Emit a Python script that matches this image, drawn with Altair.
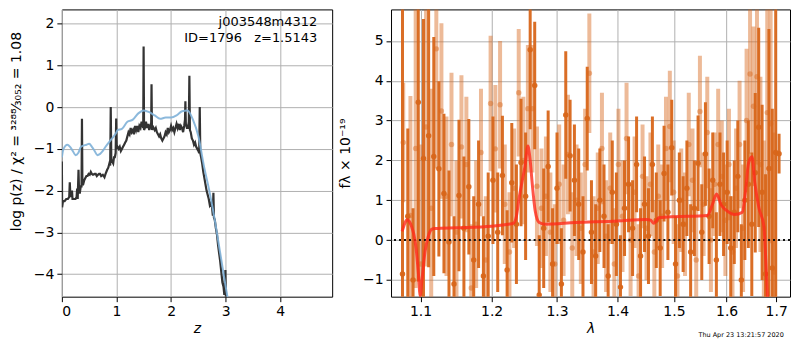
import altair as alt
import pandas as pd

# ---------------- left panel: redshift PDF ----------------
z_pz = [0.000, 0.005, 0.02, 0.05, 0.08, 0.11, 0.135, 0.145, 0.155, 0.17, 0.185, 0.195, 0.22, 0.25, 0.27,
        0.28, 0.29, 0.305, 0.315, 0.33, 0.345, 0.36, 0.368, 0.376, 0.39, 0.41, 0.43, 0.45, 0.47, 0.49,
        0.51, 0.53, 0.55, 0.57, 0.60, 0.62, 0.64, 0.66, 0.68, 0.70, 0.72, 0.75, 0.78, 0.80, 0.83,
        0.85, 0.87, 0.885, 0.895, 0.905, 0.92, 0.94, 0.955, 0.97, 0.985, 0.995, 1.005, 1.02, 1.04, 1.06,
        1.08, 1.10, 1.12, 1.14, 1.16, 1.18, 1.20, 1.22, 1.24, 1.26, 1.28, 1.30, 1.32, 1.34, 1.36,
        1.38, 1.40, 1.42, 1.44, 1.46, 1.48, 1.49, 1.497, 1.505, 1.52, 1.54, 1.56, 1.58, 1.60, 1.62,
        1.635, 1.642, 1.65, 1.66, 1.68, 1.70, 1.72, 1.74, 1.76, 1.78, 1.80, 1.82, 1.84, 1.86, 1.88,
        1.90, 1.92, 1.94, 1.96, 1.98, 2.00, 2.02, 2.04, 2.06, 2.08, 2.10, 2.12, 2.14, 2.16, 2.18,
        2.20, 2.22, 2.24, 2.255, 2.262, 2.27, 2.29, 2.31, 2.325, 2.335, 2.345, 2.36, 2.38, 2.40, 2.42,
        2.44, 2.46, 2.48, 2.50, 2.515, 2.525, 2.535, 2.55, 2.57, 2.59, 2.61, 2.63, 2.65, 2.67, 2.69,
        2.71, 2.73, 2.75, 2.765, 2.775, 2.785, 2.80, 2.82, 2.84, 2.86, 2.88, 2.90, 2.92, 2.94, 2.96,
        2.975, 2.985, 2.995, 3.005]
logp_pz = [-1.30, -2.40, -2.25, -2.25, -2.20, -2.20, -2.15, -1.80, -2.10, -2.15, -2.00, -2.20, -2.20, -2.20, -2.15,
           -1.95, -2.20, -1.50, -2.05, -2.05, -1.90, -1.90, -0.28, -1.85, -1.85, -1.75, -1.70, -1.65, -1.65, -1.60,
           -1.62, -1.55, -1.60, -1.62, -1.60, -1.60, -1.65, -1.62, -1.60, -1.60, -1.65, -1.62, -1.68, -1.60, -1.50,
           -1.45, -1.35, -1.40, 0.00, -1.25, -1.30, -1.35, -1.20, -1.20, -1.10, -0.27, -1.00, -0.95, -1.00, -0.95,
           -1.05, -1.00, -0.95, -0.90, -0.85, -0.80, -0.70, -0.60, -0.65, -0.50, -0.60, -0.55, -0.65, -0.45, -0.55,
           -0.45, -0.60, -0.45, -0.50, -0.35, -0.45, -0.50, 1.45, -0.55, -0.50, -0.35, -0.50, -0.40, -0.55, -0.45,
           -0.50, 0.55, -0.55, -0.45, -0.50, -0.55, -0.50, -0.60, -0.65, -0.70, -0.65, -0.75, -0.80, -0.75, -0.70,
           -0.60, -0.65, -0.50, -0.60, -0.55, -0.45, -0.55, -0.50, -0.60, -0.50, -0.40, -0.50, -0.40, -0.55, -0.45,
           -0.50, -0.60, -0.45, -0.30, 0.14, -0.40, -0.50, -0.50, -0.35, 0.75, -0.55, -0.60, -0.75, -0.80, -0.90,
           -0.85, -0.95, -1.00, -1.05, -1.10, 0.00, -1.10, -1.20, -1.35, -1.55, -1.70, -1.85, -2.00, -2.10, -2.20,
           -2.35, -2.30, -2.40, -2.60, -2.05, -2.65, -2.70, -2.90, -3.05, -3.30, -3.50, -3.70, -3.95, -4.20, -4.30,
           -4.50, -4.10, -3.90, -4.70]

z_prior = [0.0, 0.03, 0.1, 0.15, 0.2, 0.25, 0.3, 0.35, 0.45, 0.5, 0.55, 0.6, 0.65, 0.7, 0.75, 0.8, 0.9,
           0.95, 1.0, 1.02, 1.1, 1.2, 1.3, 1.4, 1.5, 1.6, 1.7, 1.8, 1.9, 2.0, 2.1, 2.2, 2.3, 2.4, 2.5,
           2.6, 2.7, 2.8, 2.9, 3.0, 3.04]
logp_prior = [-1.20, -1.00, -0.90, -0.95, -1.05, -1.15, -1.10, -0.95, -0.90, -0.88, -0.95, -1.05, -1.15, -1.12,
              -1.05, -0.95, -0.78, -0.70, -0.60, -0.55, -0.52, -0.35, -0.30, -0.15, -0.08, -0.12, -0.20, -0.28,
              -0.25, -0.25, -0.20, -0.10, -0.08, -0.30, -0.70, -1.40, -2.00, -2.70, -3.50, -4.30, -4.60]

label_lines = ["j003548m4312", "ID=1796\u00a0\u00a0\u00a0z=1.5143"]

# ---------------- right panel: spectrum ----------------
lam_a = [1.076, 1.083, 1.090, 1.097, 1.104, 1.111, 1.118, 1.125, 1.132, 1.139, 1.146, 1.153, 1.160, 1.167,
         1.174, 1.181, 1.188, 1.195, 1.202, 1.209, 1.216, 1.223, 1.230, 1.237, 1.244, 1.251, 1.258, 1.265,
         1.272, 1.279, 1.286, 1.293, 1.300, 1.307, 1.314, 1.321, 1.328, 1.335, 1.342, 1.349, 1.356, 1.363,
         1.370, 1.377, 1.384, 1.391, 1.398, 1.405, 1.412, 1.419, 1.426, 1.433, 1.440, 1.447, 1.454, 1.461,
         1.468, 1.475, 1.482, 1.489, 1.496, 1.503, 1.510, 1.517, 1.524, 1.531, 1.538, 1.545, 1.552, 1.559,
         1.566, 1.573, 1.580, 1.587, 1.594, 1.601, 1.608, 1.615, 1.622, 1.629, 1.636, 1.643, 1.650, 1.657,
         1.664, 1.671, 1.678, 1.685, 1.692, 1.699, 1.706]
flux_a = [-0.85, 0.60, -1.00, 3.46, 2.05, 2.62, 2.10, 1.79, 1.17, -0.05, -1.10, 1.12, 0.30, 1.34,
          -0.50, 0.90, -0.90, 0.10, 1.50, 0.20, 1.62, -0.75, 1.44, 0.40, 1.95, 1.10, 4.78, 3.88,
          -1.38, 0.30, 1.85, -0.60, 1.30, -1.10, 3.14, 2.12, 1.50, 0.90, -0.30, 3.05, 0.20, -0.40,
          1.00, 0.60, -0.90, 1.20, 0.40, -1.18, 0.80, 1.40, 0.30, 1.90, -0.40, 0.90, 0.10, 1.90,
          0.50, -0.20, 1.67, 0.70, 2.32, -0.60, 1.00, 0.40, 1.30, -0.30, 0.80, 1.93, 0.20, 2.16,
          0.60, 1.50, -0.50, 1.40, 0.90, 1.20, -0.20, 0.70, 1.60, -1.00, 1.00, 1.40, 0.40, 1.69,
          2.83, 1.20, -0.85, 1.80, -0.70, 2.20, 2.17]
err_a = [8.0, 2.2, 1.8, 4.5, 3.5, 3.3, 3.0, 2.2, 2.0, 1.8, 1.7, 1.9, 1.8, 1.7,
         1.6, 1.6, 1.5, 1.6, 1.6, 1.5, 1.5, 1.5, 1.5, 1.5, 1.6, 1.6, 2.0, 1.6,
         1.5, 1.5, 1.4, 1.4, 1.4, 1.4, 1.6, 1.4, 1.4, 1.4, 1.4, 1.3, 1.3, 1.3,
         1.3, 1.3, 1.3, 1.3, 1.3, 1.3, 1.2, 1.2, 1.2, 1.2, 1.2, 1.2, 1.2, 1.2,
         1.2, 1.2, 1.2, 1.2, 1.2, 1.2, 1.2, 1.2, 1.2, 1.2, 1.2, 1.2, 1.2, 1.3,
         1.2, 1.2, 1.2, 1.3, 1.3, 1.3, 1.3, 1.3, 1.4, 1.4, 1.5, 1.6, 1.8, 2.0,
         2.5, 2.2, 2.5, 3.5, 4.0, 8.0, 0.5]

lam_b = [1.077, 1.0865, 1.0935, 1.1005, 1.1075, 1.1145, 1.1215, 1.1285, 1.1355, 1.1425, 1.1495, 1.1565,
         1.1635, 1.1705, 1.1775, 1.1845, 1.1915, 1.1985, 1.2055, 1.2125, 1.2195, 1.2265, 1.2335, 1.2405,
         1.2475, 1.2545, 1.2615, 1.2685, 1.2755, 1.2825, 1.2895, 1.2965, 1.3035, 1.3105, 1.3175, 1.3245,
         1.3315, 1.3385, 1.3455, 1.3525, 1.3595, 1.3665, 1.3735, 1.3805, 1.3875, 1.3945, 1.4015, 1.4085,
         1.4155, 1.4225, 1.4295, 1.4365, 1.4435, 1.4505, 1.4575, 1.4645, 1.4715, 1.4785, 1.4855, 1.4925,
         1.4995, 1.5065, 1.5135, 1.5205, 1.5275, 1.5345, 1.5415, 1.5485, 1.5555, 1.5625, 1.5695, 1.5765,
         1.5835, 1.5905, 1.5975, 1.6045, 1.6115, 1.6185, 1.6255, 1.6325, 1.6395, 1.6465, 1.6535, 1.6605,
         1.6675, 1.6745, 1.6815, 1.6885, 1.6955]
flux_b = [2.45, 0.62, 2.30, -0.60, 2.84, 0.80, 4.80, 3.24, 1.10, 2.40, 0.20, 2.34,
          1.90, -1.20, 0.40, 2.20, -0.50, 3.43, 2.29, 3.40, 0.90, -0.30, 1.30, 3.70,
          2.00, 3.30, 3.30, 1.35, 0.80, 1.10, 0.20, -0.60, 1.40, 0.50, 2.15, -0.20,
          1.00, 0.30, 1.90, 4.19, -0.30, 0.80, 2.30, 0.10, 1.30, -0.60, 1.90, 0.60,
          2.55, 0.00, 1.20, -0.90, 1.60, 0.30, 1.40, -0.30, 1.10, 0.60, 2.30, 2.85,
          1.20, -0.90, 1.00, 0.40, 2.40, 1.50, -0.50, 3.23, 0.90, 2.70, 0.00, 1.40,
          2.40, 1.60, 0.50, 1.90, -0.30, 1.30, 2.40, 0.30, 3.00, 4.17, 3.36, 4.10,
          1.90, 0.30, 3.20, 2.92, -0.80]
err_b = [1.5, 3.0, 3.5, 3.0, 3.5, 3.0, 3.0, 2.2, 2.0, 1.8, 1.8, 1.8,
         1.7, 1.6, 1.6, 1.6, 1.6, 1.7, 1.6, 1.6, 1.5, 1.5, 1.5, 1.6,
         1.6, 1.6, 1.6, 1.5, 1.5, 1.5, 1.5, 1.5, 1.5, 1.4, 1.5, 1.4,
         1.4, 1.4, 1.4, 1.5, 1.4, 1.4, 1.4, 1.4, 1.4, 1.4, 1.4, 1.4,
         1.4, 1.4, 1.4, 1.3, 1.3, 1.3, 1.3, 1.3, 1.3, 1.3, 1.3, 1.4,
         1.3, 1.3, 1.3, 1.3, 1.3, 1.3, 1.3, 1.4, 1.3, 1.4, 1.3, 1.3,
         1.4, 1.4, 1.4, 1.4, 1.4, 1.5, 1.6, 1.6, 1.8, 2.0, 2.0, 2.2,
         2.2, 2.2, 2.6, 3.0, 3.5]

lam_model = [1.0756, 1.079, 1.082, 1.085, 1.088, 1.091, 1.094, 1.097, 1.0996, 1.102, 1.106, 1.1106, 1.115,
             1.1195, 1.15, 1.20, 1.225, 1.2322, 1.237, 1.241, 1.246, 1.25, 1.2545, 1.258, 1.261, 1.2657,
             1.272, 1.28, 1.33, 1.40, 1.4495, 1.458, 1.4633, 1.468, 1.472, 1.4882, 1.5625, 1.5725, 1.5805,
             1.589, 1.599, 1.616, 1.631, 1.6365, 1.6435, 1.6505, 1.656, 1.6643, 1.6747, 1.678, 1.6816, 1.684]
flux_model = [0.22, 0.42, 0.51, 0.47, 0.34, 0.15, -0.20, -0.80, -1.40, -1.00, -0.30, 0.10, 0.27,
              0.29, 0.31, 0.35, 0.40, 0.42, 0.60, 1.05, 1.50, 1.85, 2.36, 2.00, 1.45, 0.74,
              0.44, 0.40, 0.44, 0.48, 0.52, 0.50, 0.42, 0.48, 0.56, 0.58, 0.62, 0.90, 1.16,
              0.89, 0.75, 0.64, 0.70, 1.13, 1.93, 2.09, 1.45, 0.82, 0.34, -0.37, -1.33, -1.80]

timestamp = "Thu Apr 23 13:21:57 2020"

FONT = "DejaVu Sans"
ORANGE = "#d8661a"
H = 288

# ---------------- build left ----------------
df_pz = pd.DataFrame({"z": z_pz, "lp": logp_pz})
df_prior = pd.DataFrame({"z": z_prior, "lp": logp_prior})

xz = alt.X("z:Q", scale=alt.Scale(domain=[0, 4.95], nice=False, zero=False),
           axis=alt.Axis(values=[0, 1, 2, 3, 4], title="z", titleFontStyle="italic", format="d"))
yz = alt.Y("lp:Q", scale=alt.Scale(domain=[-4.54, 2.34], nice=False, zero=False),
           axis=alt.Axis(values=[-4, -3, -2, -1, 0, 1, 2], format="d",
                         title="log p(z) / χ² = ³²⁸⁸⁄₃₀₅₂ = 1.08", titlePadding=10, titleY=122))

black = alt.Chart(df_pz).mark_line(color="#333333", strokeWidth=2.2, clip=True).encode(x=xz, y=yz)
blue = alt.Chart(df_prior).mark_line(color="#7fb1d8", strokeWidth=2, opacity=0.9, clip=True,
                                     interpolate="monotone").encode(x="z:Q", y="lp:Q")
lab1 = alt.Chart(pd.DataFrame({"t": [label_lines[0]]})).mark_text(
    align="right", baseline="middle", font=FONT, fontSize=13, color="black").encode(
    x=alt.value(256), y=alt.value(13), text="t:N")
lab2 = alt.Chart(pd.DataFrame({"t": [label_lines[1]]})).mark_text(
    align="right", baseline="middle", font=FONT, fontSize=13, color="black").encode(
    x=alt.value(256), y=alt.value(29), text="t:N")

left = alt.layer(black, blue, lab1, lab2).properties(width=271, height=H)

# ---------------- build right ----------------
df_a = pd.DataFrame({"lam": lam_a, "f": flux_a, "e": err_a})
df_a["lo"] = df_a["f"] - df_a["e"]
df_a["hi"] = df_a["f"] + df_a["e"]
df_b = pd.DataFrame({"lam": lam_b, "f": flux_b, "e": err_b})
df_b["lo"] = df_b["f"] - df_b["e"]
df_b["hi"] = df_b["f"] + df_b["e"]
df_m = pd.DataFrame({"lam": lam_model, "f": flux_model})
df_ts = pd.DataFrame({"t": [timestamp]})

xl = alt.X("lam:Q", scale=alt.Scale(type="log", domain=[1.061, 1.729], nice=False),
           axis=alt.Axis(values=[1.1, 1.2, 1.3, 1.4, 1.5, 1.6, 1.7], format=".1f", title="λ",
                         titleFontStyle="italic"))
yl_scale = alt.Scale(domain=[-1.42, 5.79], nice=False, zero=False)
yl = alt.Y("lo:Q", scale=yl_scale,
           axis=alt.Axis(values=[-1, 0, 1, 2, 3, 4, 5], format="d", title="fλ × 10⁻¹⁹",
                         titlePadding=10))

bars_b = alt.Chart(df_b).mark_rule(color=ORANGE, strokeWidth=4, opacity=0.45, clip=True).encode(
    x=xl, y=yl, y2="hi:Q")
pts_b = alt.Chart(df_b).mark_circle(color=ORANGE, size=30, opacity=0.45, clip=True).encode(
    x="lam:Q", y=alt.Y("f:Q", scale=yl_scale))
bars_a = alt.Chart(df_a).mark_rule(color=ORANGE, strokeWidth=3, opacity=0.95, clip=True).encode(
    x="lam:Q", y=alt.Y("lo:Q", scale=yl_scale), y2="hi:Q")
pts_a = alt.Chart(df_a).mark_circle(color=ORANGE, size=30, opacity=0.95, clip=True).encode(
    x="lam:Q", y=alt.Y("f:Q", scale=yl_scale))
zero = alt.Chart(df_ts).mark_rule(color="#111111", strokeWidth=2, strokeDash=[2, 3]).encode(
    y=alt.datum(0))
model = alt.Chart(df_m).mark_line(color="#ff2a1a", strokeWidth=3, opacity=0.8, clip=True,
                                  interpolate="monotone").encode(
    x="lam:Q", y=alt.Y("f:Q", scale=yl_scale))
ts = alt.Chart(df_ts).mark_text(font=FONT, fontSize=6.5, color="black", align="center",
                                baseline="middle").encode(
    x=alt.value(351), y=alt.value(H + 38), text="t:N")

right = alt.layer(bars_b, pts_b, bars_a, pts_a, zero, model, ts).properties(width=400, height=H)

chart = alt.hconcat(left, right, spacing=4).properties(padding=0).configure_view(
    stroke="black", strokeWidth=1
).configure_axis(
    labelFont=FONT, labelFontSize=14, labelColor="black", labelPadding=3,
    titleFont=FONT, titleFontSize=14, titleFontWeight="normal", titleColor="black",
    tickColor="black", tickSize=5, domain=False,
    gridColor="#b0b0b0", gridWidth=1, gridOpacity=1
).configure_axisX(titlePadding=3)

chart.save("out.html", embed_options={"renderer": "svg", "actions": False})
